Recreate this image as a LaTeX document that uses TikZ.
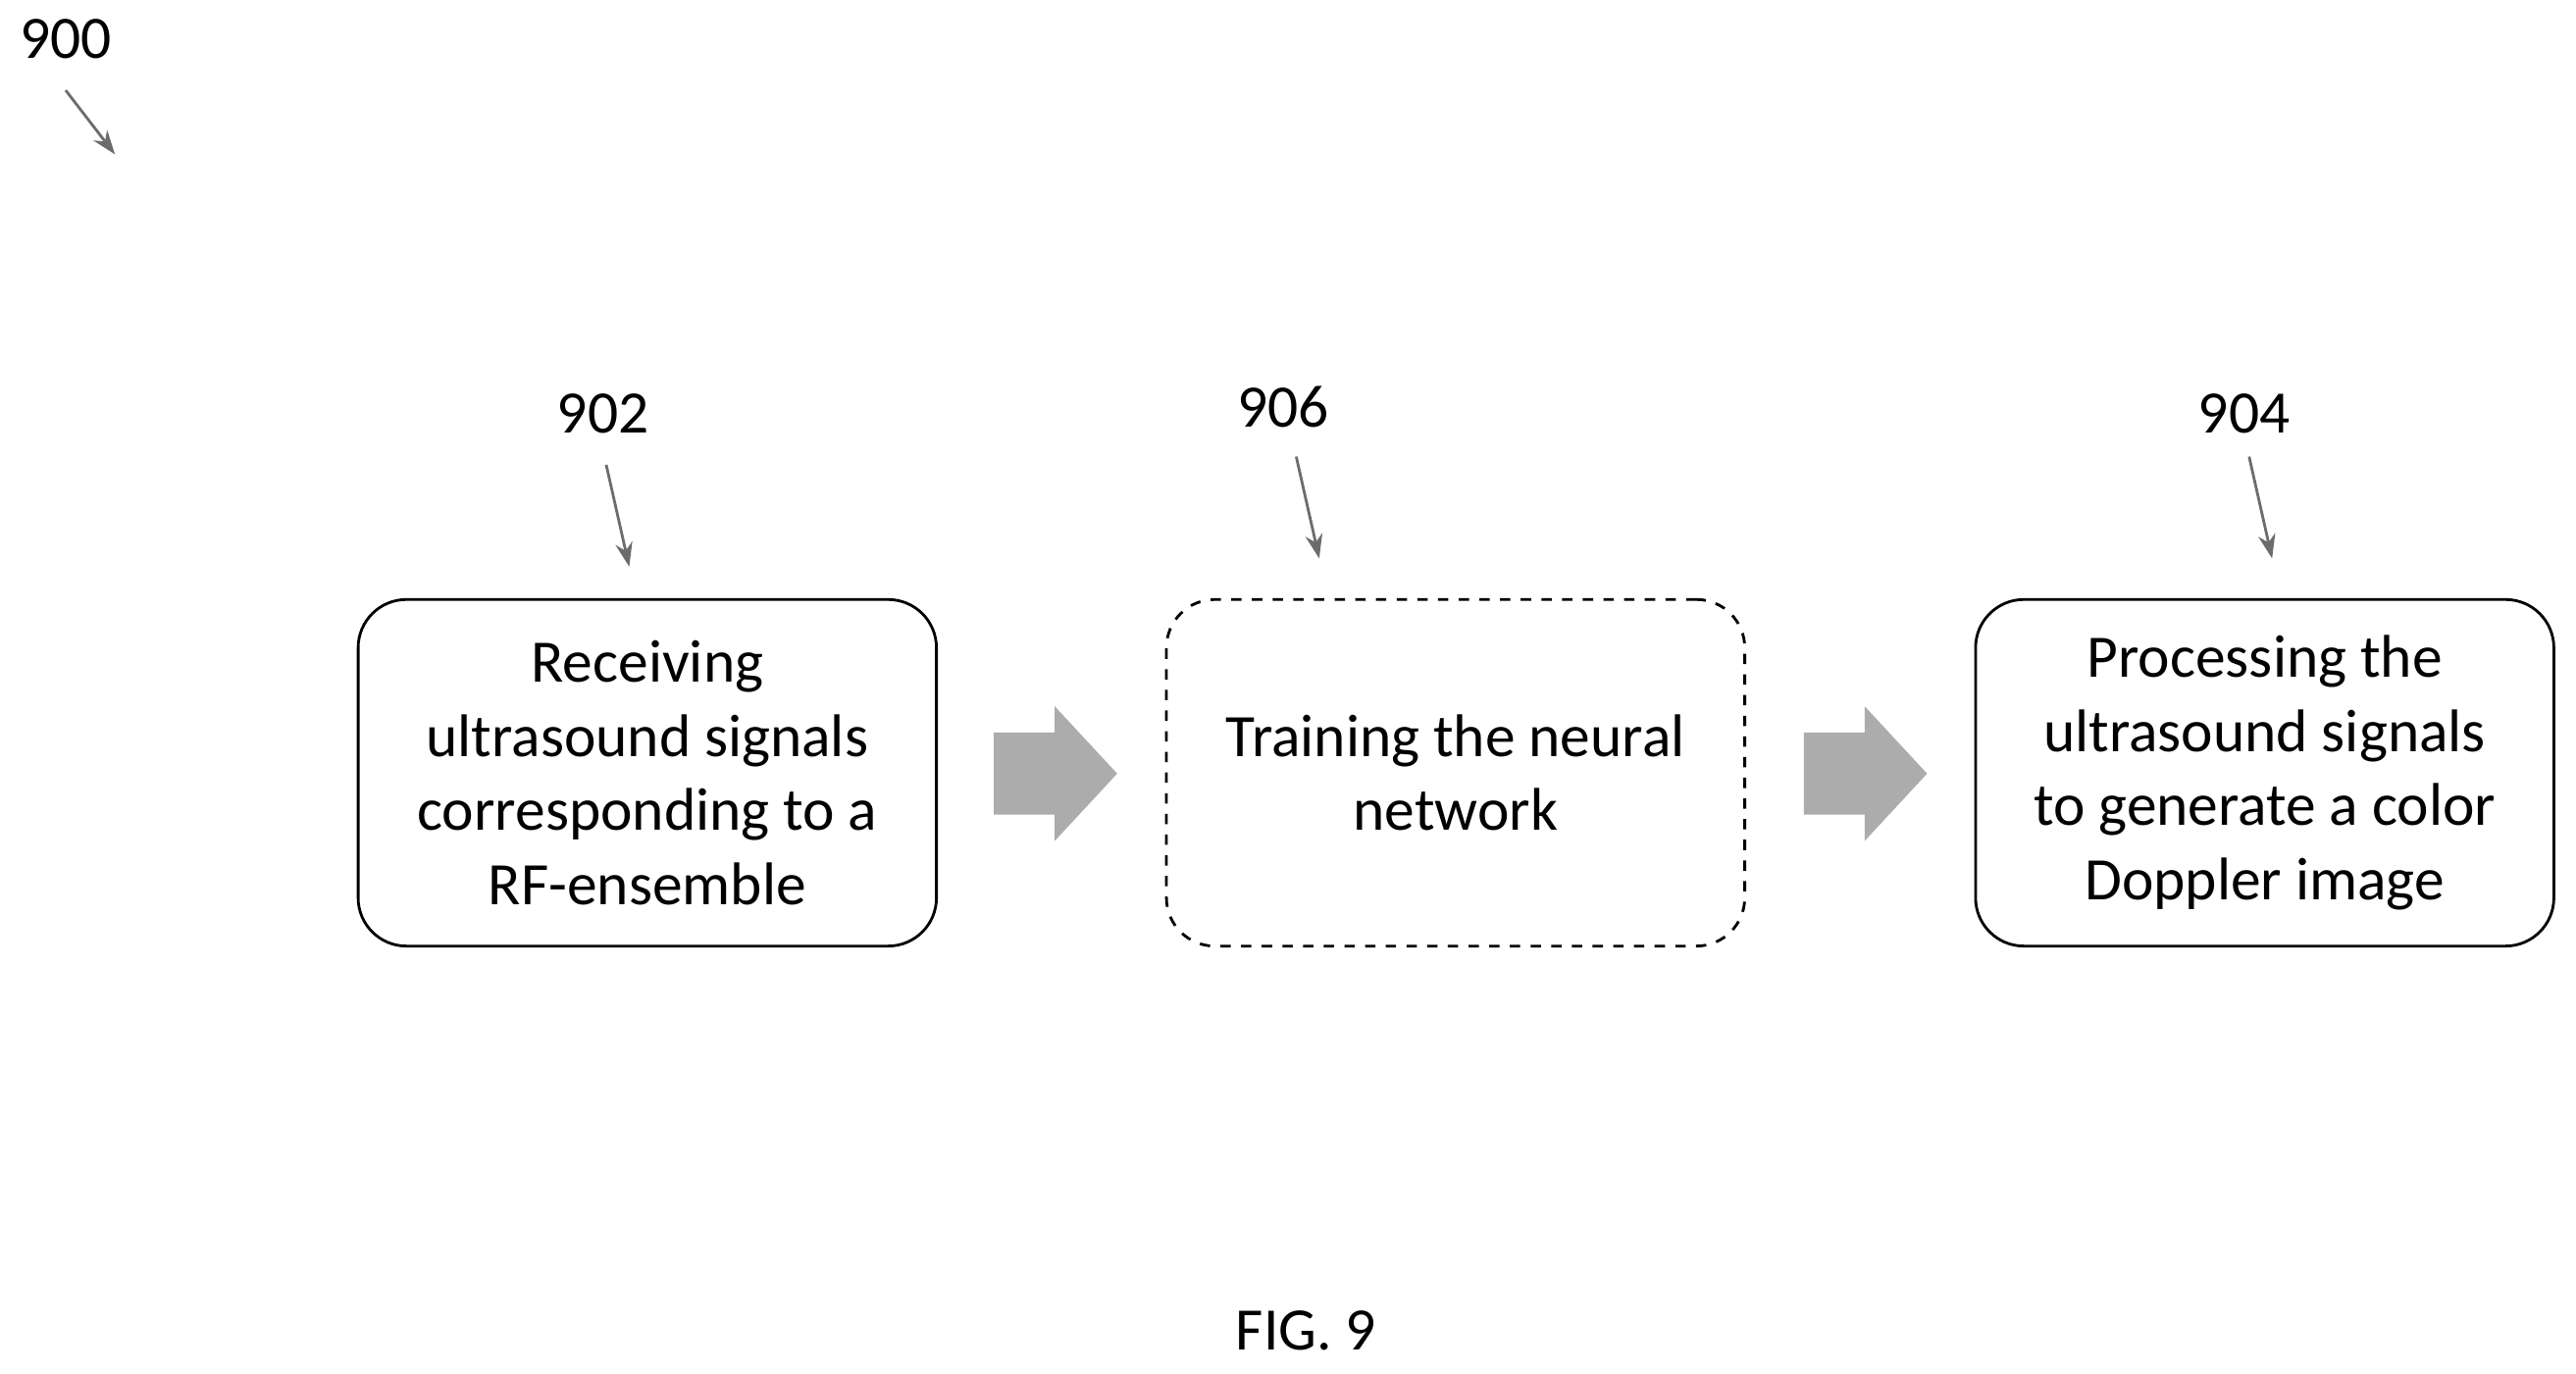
\documentclass[tikz,border=0pt]{standalone}
\usetikzlibrary{arrows.meta}
\usepackage{fontspec}
\setmainfont{Carlito}
\begin{document}
\begin{tikzpicture}[x=0.016747cm,y=-0.016747cm,
 box/.style={draw,thick,rounded corners=14pt,minimum width=352*0.016747cm,minimum height=211*0.016747cm,align=center,font=\fontsize{17.5}{21.5}\selectfont,inner sep=0pt},
 lbl/.style={font=\fontsize{17.5}{21}\selectfont,inner sep=0pt},
 ptr/.style={draw=gray!85!black,thick,-{Stealth[length=7pt,width=5pt]}},
 fat/.style={fill=gray!65,draw=none}]
\useasboundingbox (0,0) rectangle (1568,836);
\node[box] (b1) at (394,470.5) {Receiving\\ultrasound signals\\corresponding to a\\RF-ensemble};
\node[box,dashed] (b2) at (886,470.5) {Training the neural\\network};
\node[box] (b3) at (1378.5,470.5) {Processing the\\ultrasound signals\\to generate a color\\Doppler image};
\fill[fat] (605,446) -- (642,446) -- (642,430) -- (680,471) -- (642,512) -- (642,496) -- (605,496) -- cycle;
\fill[fat] (1098,446) -- (1135,446) -- (1135,430) -- (1173,471) -- (1135,512) -- (1135,496) -- (1098,496) -- cycle;
\node[lbl] (l900) at (40,24) {900};
\node[lbl] (l902) at (367,252) {902};
\node[lbl] (l906) at (781,248) {906};
\node[lbl] (l904) at (1366,252) {904};
\node[lbl] (fig) at (795,810) {FIG. 9};
\coordinate (t900) at (70,94);
\coordinate (t902) at (383,345);
\coordinate (t906) at (803,340);
\coordinate (t904) at (1383,340);
\draw[ptr] (40,55) -- (t900);
\draw[ptr] (369,283) -- (t902);
\draw[ptr] (789,278) -- (t906);
\draw[ptr] (1369,278) -- (t904);
\end{tikzpicture}
\end{document}
